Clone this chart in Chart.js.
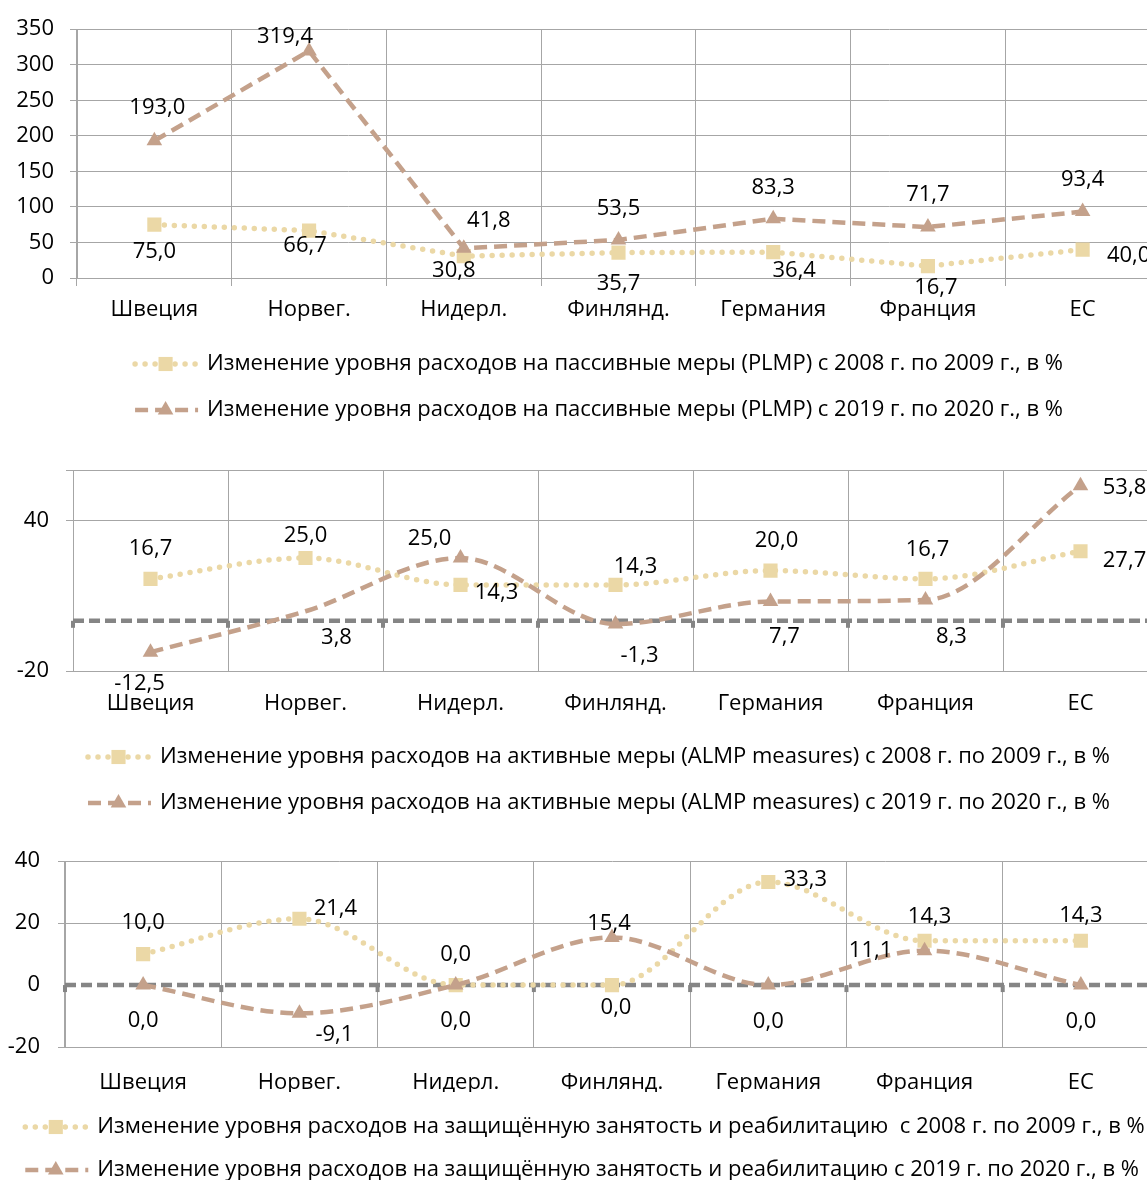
<!DOCTYPE html>
<html><head><meta charset="utf-8">
<script src="https://cdn.jsdelivr.net/npm/chart.js@4.4.1/dist/chart.umd.min.js"></script>
<style>
html,body{margin:0;padding:0;background:#fff;}
#wrap{position:relative;width:1147px;height:1180px;overflow:hidden;background:#fff;}
canvas.pan{position:absolute;left:0;}
</style></head><body>
<div id="wrap">
<canvas id="c1" class="pan" style="top:0px" width="1170" height="440"></canvas>
<canvas id="c2" class="pan" style="top:440px" width="1170" height="390"></canvas>
<canvas id="c3" class="pan" style="top:830px" width="1170" height="350"></canvas>
</div>
<script>
// ---------- data ----------
const categories = ['Швеция', 'Норвег.', 'Нидерл.', 'Финлянд.', 'Германия', 'Франция', 'ЕС'];

const plmp2008 = [75.0, 66.7, 30.8, 35.7, 36.4, 16.7, 40.0];
const plmp2019 = [193.0, 319.4, 41.8, 53.5, 83.3, 71.7, 93.4];

const almp2008 = [16.7, 25.0, 14.3, 14.3, 20.0, 16.7, 27.7];
const almp2019 = [-12.5, 3.8, 25.0, -1.3, 7.7, 8.3, 53.8];

const shelt2008 = [10.0, 21.4, 0.0, 0.0, 33.3, 14.3, 14.3];
const shelt2019 = [0.0, -9.1, 0.0, 15.4, 0.0, 11.1, 0.0];

const ticks1 = [0, 50, 100, 150, 200, 250, 300, 350];
const tickLabels1 = ['0', '50', '100', '150', '200', '250', '300', '350'];
const ticks2 = [-20, 40, 60];
const tickLabels2 = ['-20', '40', ''];
const ticks3 = [-20, 0, 20, 40];
const tickLabels3 = ['-20', '0', '20', '40'];

const legend1 = ['Изменение уровня расходов на пассивные меры (PLMP) с 2008 г. по 2009 г., в %',
                 'Изменение уровня расходов на пассивные меры (PLMP) с 2019 г. по 2020 г., в %'];
const legend2 = ['Изменение уровня расходов на активные меры (ALMP measures) с 2008 г. по 2009 г., в %',
                 'Изменение уровня расходов на активные меры (ALMP measures) с 2019 г. по 2020 г., в %'];
const legend3 = ['Изменение уровня расходов на защищённую занятость и реабилитацию  с 2008 г. по 2009 г., в %',
                 'Изменение уровня расходов на защищённую занятость и реабилитацию с 2019 г. по 2020 г., в %'];

// ---------- styles ----------
const C_LIGHT = '#EBD8A6';
const C_DARK = '#C4A18B';
const GRID = '#A6A6A6';
const ZERO = '#858585';
const FONT = "'Open Sans', 'Noto Sans', sans-serif";
const TICK_SIZE = 22;
const LABEL_SIZE = 22;
const LEGEND_SIZE = 22;

function fmt(v) { return v.toFixed(1).replace('.', ','); }

// data label offsets [dx, dy] relative to each point
const off1a = [[0, 27], [-4, 15], [-10, 15], [0, 31], [21, 19], [8, 22], [46, 6]];
const off1b = [[3, -33], [-24, -14], [25, -28], [0, -31], [0, -31], [0, -32], [0, -32]];
const off2a = [[0, -30], [0, -22], [36, 8], [20, -18], [6, -30], [2, -29], [44, 9]];
const off2b = [[-11, 32], [31, 26], [-31, -19], [24, 32], [14, 35], [26, 37], [44, 2]];
const off3a = [[0, -31], [36, -10], [0, -30], [4, 23], [37, -2], [5, -24], [0, -25]];
const off3b = [[0, 36], [35, 21], [0, 36], [-3, -14], [0, 37], [-54, 0], [0, 37]];

// ---------- plugins ----------
const zeroLinePlugin = {
  id: 'zeroLine',
  beforeDatasetsDraw(chart, args, opts) {
    if (!opts || !opts.display) return;
    const ctx = chart.ctx, xs = chart.scales.x, ys = chart.scales.y, a = chart.chartArea;
    const y = ys.getPixelForValue(0);
    ctx.save();
    ctx.strokeStyle = ZERO;
    ctx.lineWidth = 4.5;
    ctx.setLineDash([11, 5]);
    ctx.beginPath();
    ctx.moveTo(a.left, y);
    ctx.lineTo(a.right, y);
    ctx.stroke();
    ctx.fillStyle = ZERO;
    const n = chart.data.labels.length;
    for (let i = 0; i <= n; i++) {
      const x = xs.getPixelForValue(i - 0.5);
      ctx.fillRect(x - 2, y, 4, 7);
    }
    ctx.restore();
  }
};

const dataLabelPlugin = {
  id: 'ptLabels',
  afterDatasetsDraw(chart) {
    const ctx = chart.ctx;
    ctx.save();
    ctx.font = LABEL_SIZE + 'px ' + FONT;
    ctx.fillStyle = '#000';
    ctx.textAlign = 'center';
    ctx.textBaseline = 'middle';
    chart.data.datasets.forEach((ds, di) => {
      const meta = chart.getDatasetMeta(di);
      meta.data.forEach((pt, i) => {
        const o = ds.labelOffsets[i];
        ctx.fillText(fmt(ds.data[i]), pt.x + o[0], pt.y + o[1]);
      });
    });
    ctx.restore();
  }
};

const lineLegendPlugin = {
  id: 'lineLegend',
  afterDraw(chart, args, opts) {
    const ctx = chart.ctx;
    ctx.save();
    ctx.font = LEGEND_SIZE + 'px ' + FONT;
    const sample = 65, gap = 9;
    const widths = chart.data.datasets.map(ds => ctx.measureText(ds.label).width);
    const total = sample + gap + Math.max.apply(null, widths);
    const x0 = opts.centerX - total / 2;
    chart.data.datasets.forEach((ds, i) => {
      const y = opts.rows[i];
      ctx.save();
      ctx.strokeStyle = ds.borderColor;
      ctx.lineWidth = ds.borderWidth;
      ctx.lineCap = ds.borderCapStyle || 'butt';
      ctx.setLineDash(ds.borderDash || []);
      ctx.beginPath();
      ctx.moveTo(x0 + 2, y);
      ctx.lineTo(x0 + sample, y);
      ctx.stroke();
      ctx.setLineDash([]);
      ctx.fillStyle = ds.pointBackgroundColor;
      Chart.helpers.drawPoint(ctx, {pointStyle: ds.pointStyle, rotation: 0, radius: ds.legendRadius, borderWidth: 0}, x0 + sample / 2, y);
      ctx.restore();
      ctx.fillStyle = '#000';
      ctx.textAlign = 'left';
      ctx.textBaseline = 'middle';
      ctx.fillText(ds.label, x0 + sample + gap, y);
    });
    ctx.restore();
  }
};

// ---------- chart factory ----------
function makeChart(id, cfg) {
  return new Chart(document.getElementById(id), {
    type: 'line',
    data: {
      labels: categories,
      datasets: [
        {
          label: cfg.legend[0], data: cfg.a, order: 2,
          borderColor: C_LIGHT, backgroundColor: C_LIGHT, pointBackgroundColor: C_LIGHT,
          pointBorderColor: C_LIGHT, pointBorderWidth: 0,
          borderWidth: 5.5, borderDash: [0, 10], borderCapStyle: 'round',
          pointStyle: 'rect', pointRadius: 10, legendRadius: 10,
          cubicInterpolationMode: cfg.smooth ? 'monotone' : 'default', tension: 0, fill: false,
          labelOffsets: cfg.offA
        },
        {
          label: cfg.legend[1], data: cfg.b, order: 1,
          borderColor: C_DARK, backgroundColor: C_DARK, pointBackgroundColor: C_DARK,
          pointBorderColor: C_DARK, pointBorderWidth: 0,
          borderWidth: 4.5, borderDash: [13, 7], borderCapStyle: 'butt',
          pointStyle: 'triangle', pointRadius: cfg.radB || 9, legendRadius: 9,
          cubicInterpolationMode: cfg.smooth ? 'monotone' : 'default', tension: 0, fill: false,
          labelOffsets: cfg.offB
        }
      ]
    },
    options: {
      responsive: false,
      animation: false,
      layout: {padding: {top: cfg.top, bottom: cfg.bottom, left: 0, right: cfg.right}},
      plugins: {
        legend: {display: false},
        tooltip: {enabled: false},
        zeroLine: {display: cfg.zero},
        lineLegend: {centerX: cfg.legendX, rows: cfg.rows}
      },
      scales: {
        x: {
          offset: true,
          grid: {offset: true, color: GRID, lineWidth: 1, drawTicks: cfg.xTicks, tickLength: 8},
          border: {color: GRID, width: 1},
          ticks: {font: {family: FONT, size: TICK_SIZE}, color: '#000', padding: cfg.xPad, maxRotation: 0, autoSkip: false},
          afterFit(s) { s.height = 45; }
        },
        y: {
          min: cfg.ticks[0], max: cfg.ticks[cfg.ticks.length - 1],
          afterBuildTicks(s) { s.ticks = cfg.ticks.map(v => ({value: v})); },
          grid: {
            color: c => (cfg.zero && c.tick && c.tick.value === 0) ? 'rgba(0,0,0,0)' : GRID,
            lineWidth: 1, tickLength: 7
          },
          border: {color: GRID, width: 1},
          ticks: {
            font: {family: FONT, size: TICK_SIZE}, color: '#000', padding: cfg.yPad,
            callback: (v, i) => cfg.tickLabels[i]
          },
          afterFit(s) { s.width = cfg.left; }
        }
      }
    },
    plugins: [zeroLinePlugin, dataLabelPlugin, lineLegendPlugin]
  });
}

makeChart('c1', {
  a: plmp2008, b: plmp2019, legend: legend1, offA: off1a, offB: off1b,
  ticks: ticks1, tickLabels: tickLabels1, smooth: false,
  top: 24, bottom: 117, right: 8, left: 77, yPad: 16,
  xTicks: true, xPad: 11, zero: false,
  legendX: 598, rows: [364, 410]
});

makeChart('c2', {
  a: almp2008, b: almp2019, legend: legend2, offA: off2a, offB: off2b,
  radB: [9, 0, 9, 9, 9, 9, 9], smooth: true,
  ticks: ticks2, tickLabels: tickLabels2,
  top: 30, bottom: 114, right: 12, left: 73, yPad: 17,
  xTicks: false, xPad: 20, zero: true,
  legendX: 598, rows: [317, 363]
});

makeChart('c3', {
  a: shelt2008, b: shelt2019, legend: legend3, offA: off3a, offB: off3b,
  ticks: ticks3, tickLabels: tickLabels3, smooth: true,
  top: 13, bottom: 88, right: 11, left: 65, yPad: 18,
  xTicks: false, xPad: 23, zero: true,
  legendX: 584, rows: [297, 340]
});
</script>
</body></html>
